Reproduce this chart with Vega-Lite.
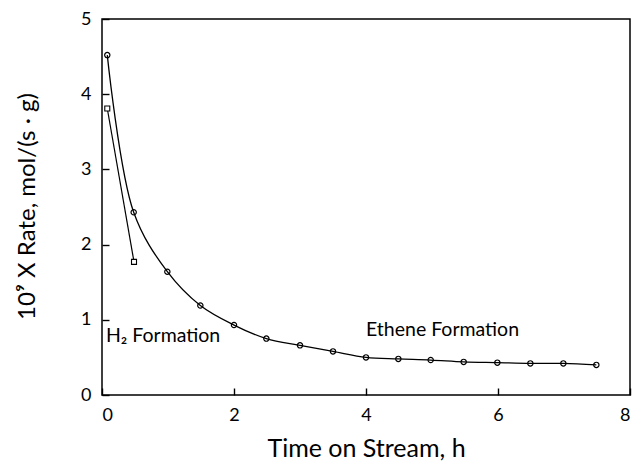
{
  "$schema": "https://vega.github.io/schema/vega-lite/v6.json",
  "width": 528,
  "height": 376,
  "autosize": {"type": "none"},
  "padding": {"left": 102, "top": 19, "right": 6, "bottom": 67},
  "background": "white",
  "config": {
    "view": {"stroke": "black", "strokeWidth": 1.5},
    "font": "Lato",
    "axis": {
      "grid": false,
      "domain": false,
      "ticks": true,
      "tickColor": "black",
      "tickSize": 7,
      "tickWidth": 1.4,
      "tickOpacity": 1,
      "offset": -7,
      "zindex": 1,
      "labelColor": "black",
      "labelFont": "Lato",
      "labelFontSize": 18,
      "titleFont": "Lato",
      "titleColor": "black",
      "titleFontWeight": "normal"
    }
  },
  "datasets": {
    "ethene": [
      {"t": 0.08, "rate": 4.52},
      {"t": 0.48, "rate": 2.43},
      {"t": 0.99, "rate": 1.64},
      {"t": 1.49, "rate": 1.19},
      {"t": 2.0, "rate": 0.93},
      {"t": 2.49, "rate": 0.75},
      {"t": 3.0, "rate": 0.66},
      {"t": 3.5, "rate": 0.58},
      {"t": 4.0, "rate": 0.5},
      {"t": 4.49, "rate": 0.48},
      {"t": 4.98, "rate": 0.465},
      {"t": 5.48, "rate": 0.44},
      {"t": 5.99, "rate": 0.43},
      {"t": 6.49, "rate": 0.42},
      {"t": 6.99, "rate": 0.42},
      {"t": 7.49, "rate": 0.4}
    ],
    "h2": [
      {"t": 0.08, "rate": 3.81},
      {"t": 0.485, "rate": 1.77}
    ],
    "labels": [
      {"t": 0.06, "rate": 0.78, "label": "H₂ Formation"},
      {"t": 4.0, "rate": 0.86, "label": "Ethene Formation"}
    ]
  },
  "encoding": {
    "x": {
      "field": "t", "type": "quantitative",
      "scale": {"domain": [0, 8], "nice": false, "zero": false},
      "axis": {"values": [0, 2, 4, 6, 8], "ticks": true, "title": "Time on Stream, h", "labelPadding": 11, "titleFontSize": 25, "titleY": 68, "titleBaseline": "alphabetic"}
    },
    "y": {
      "field": "rate", "type": "quantitative",
      "scale": {"domain": [0, 5], "nice": false, "zero": false},
      "axis": {"values": [0, 1, 2, 3, 4, 5], "ticks": true, "title": "10⁹ X Rate, mol/(s · g)", "labelPadding": 11, "titleFontSize": 24, "titleX": -82, "titleY": 187, "titleAngle": -90, "titleBaseline": "middle", "titleAlign": "center"}
    }
  },
  "layer": [
    {
      "data": {"name": "ethene"},
      "mark": {"type": "line", "color": "black", "strokeWidth": 1.3, "interpolate": "catmull-rom"}
    },
    {
      "data": {"name": "ethene"},
      "mark": {"type": "point", "shape": "circle", "filled": false, "color": "black", "size": 28, "strokeWidth": 1.2, "opacity": 1}
    },
    {
      "data": {"name": "h2"},
      "mark": {"type": "line", "color": "black", "strokeWidth": 1.2}
    },
    {
      "data": {"name": "h2"},
      "mark": {"type": "point", "shape": "square", "filled": false, "color": "black", "size": 25, "strokeWidth": 1.1, "opacity": 1, "fill": "white"}
    },
    {
      "data": {"name": "labels"},
      "mark": {"type": "text", "align": "left", "baseline": "middle", "fontSize": 19.5, "font": "Lato", "color": "black"},
      "encoding": {"text": {"field": "label"}}
    }
  ]
}
